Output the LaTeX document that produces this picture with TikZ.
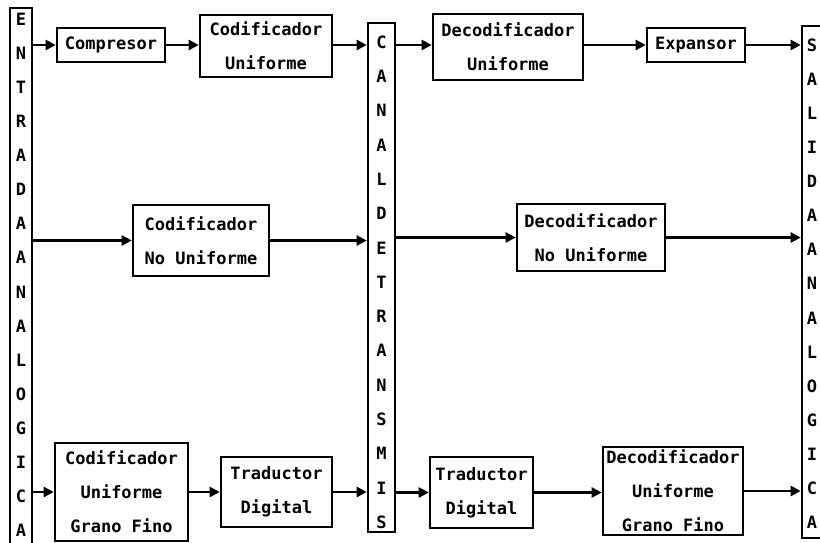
\documentclass[tikz,border=0pt]{standalone}
\usepackage{fontspec}
\setmonofont{DejaVu Sans Mono}
\usetikzlibrary{arrows.meta}

\begin{document}
\begin{tikzpicture}[x=1pt,y=-1pt,
    blk/.style={draw,line width=2.6pt,align=center,inner sep=0pt},
    bar/.style={draw,line width=2.6pt,inner sep=0pt},
    ltr/.style={inner sep=0pt},
    arr/.style={line width=2.4pt,-{Triangle[length=10pt,width=10pt]}},
    every node/.style={font=\fontsize{17}{34}\selectfont\ttfamily\bfseries}]
  \useasboundingbox (0,0) rectangle (820,542);
  % the three bars
  \node[bar,minimum width=22,minimum height=544] (ent) at (21,280) {};
  \node[bar,minimum width=27,minimum height=509] (can) at (381.5,277.5) {};
  \node[bar,minimum width=22,minimum height=512] (sal) at (813,282) {};
  \foreach \l [count=\i from 0] in {E,N,T,R,A,D,A,A,N,A,L,O,G,I,C,A}
    \node[ltr] (ent\i) at (21,19+34.1*\i) {\l};
  \foreach \l [count=\i from 0] in {C,A,N,A,L,D,E,T,R,A,N,S,M,I,S}
    \node[ltr] (can\i) at (381.5,42+34.3*\i) {\l};
  \foreach \l [count=\i from 0] in {S,A,L,I,D,A,A,N,A,L,O,G,I,C,A}
    \node[ltr] (sal\i) at (812,45+34.1*\i) {\l};
  % first row
  \node[blk,minimum width=108,minimum height=34] (comp) at (111,45) {Compresor};
  \node[blk,minimum width=132,minimum height=62] (codu) at (266,46) {Codificador\\Uniforme};
  \node[blk,minimum width=150,minimum height=66] (decu) at (508,47) {Decodificador\\Uniforme};
  \node[blk,minimum width=98,minimum height=34] (expa) at (696,45) {Expansor};
  \draw[arr] (ent.east |- comp.west) -- (comp.west);
  \draw[arr] (comp.east) -- (codu.west |- comp.east);
  \draw[arr] (codu.east |- comp.east) -- (can.west |- comp.east);
  \draw[arr] (can.east |- comp.east) -- (decu.west |- comp.east);
  \draw[arr] (decu.east |- expa.west) -- (expa.west);
  \draw[arr] (expa.east) -- (sal.west |- expa.east);
  % second row
  \node[blk,minimum width=136,minimum height=71] (codnu) at (201,240.5) {Codificador\\No Uniforme};
  \node[blk,minimum width=148,minimum height=67] (decnu) at (591,237.5) {Decodificador\\No Uniforme};
  \draw[arr] (ent.east |- codnu.west) -- (codnu.west);
  \draw[arr] (codnu.east) -- (can.west |- codnu.east);
  \draw[arr] (can.east |- decnu.west) -- (decnu.west);
  \draw[arr] (decnu.east) -- (sal.west |- decnu.east);
  % third row
  \node[blk,minimum width=133,minimum height=98] (codgf) at (121.5,492) {Codificador\\Uniforme\\Grano Fino};
  \node[blk,minimum width=111,minimum height=70] (tradl) at (276.5,492) {Traductor\\Digital};
  \node[blk,minimum width=103,minimum height=71] (tradr) at (481.5,492.5) {Traductor\\Digital};
  \node[blk,minimum width=140,minimum height=88] (decgf) at (673,491) {Decodificador\\Uniforme\\Grano Fino};
  \draw[arr] (ent.east |- codgf.west) -- (codgf.west);
  \draw[arr] (codgf.east) -- (tradl.west |- codgf.east);
  \draw[arr] (tradl.east) -- (can.west |- tradl.east);
  \draw[arr] (can.east |- tradr.west) -- (tradr.west);
  \draw[arr] (tradr.east) -- (decgf.west |- tradr.east);
  \draw[arr] (decgf.east) -- (sal.west |- decgf.east);
\end{tikzpicture}
\end{document}
